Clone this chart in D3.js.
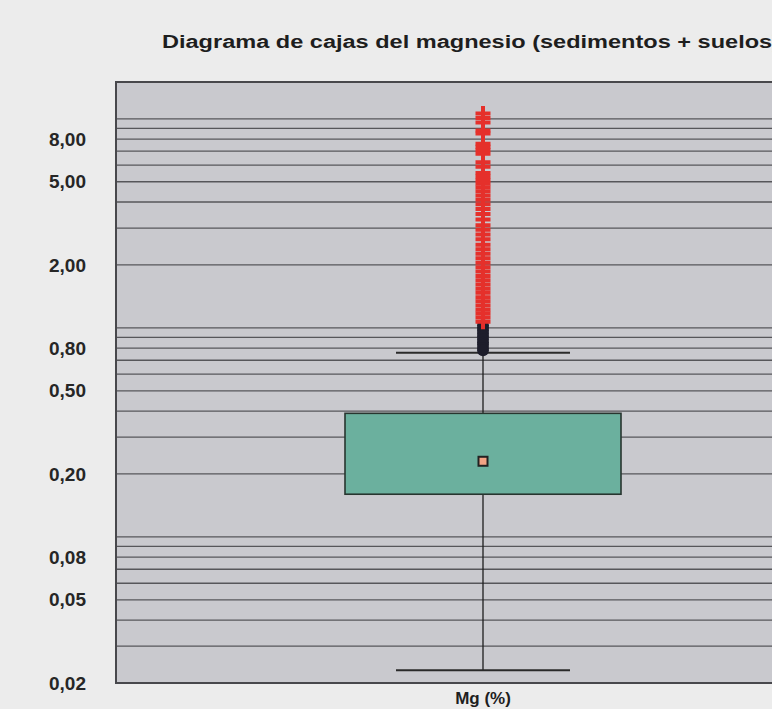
<!DOCTYPE html>
<html>
<head>
<meta charset="utf-8">
<script src="https://cdn.jsdelivr.net/npm/d3@7"></script>
<style>
  body { margin: 0; background: #ececec; }
  svg { display: block; font-family: "Liberation Sans", Arial, sans-serif; }
</style>
</head>
<body>
<div id="chart"></div>
<script>
/* box plot of Mg, log axis, plot runs past the right edge like the scan */

const categories = ["Mg (%)"];
const tickValues = [8, 5, 2, 0.8, 0.5, 0.2, 0.08, 0.05, 0.02];
const tickLabels = ["8,00", "5,00", "2,00", "0,80", "0,50", "0,20", "0,08", "0,05", "0,02"];
const gridValues = [0.03, 0.04, 0.05, 0.06, 0.07, 0.08, 0.09, 0.1,
                    0.2, 0.3, 0.4, 0.5, 0.6, 0.7, 0.8, 0.9, 1,
                    2, 3, 4, 5, 6, 7, 8, 9, 10];
const yDomain = [0.02, 15];

// whisker low, q1, mean, q3, whisker high
const boxStats = [0.023, 0.16, 0.23, 0.39, 0.76];

const outliers = [1.03, 1.0, 0.97, 0.94, 0.91, 0.88, 0.85, 0.83, 0.80, 0.78];
const extremes = [10.6, 10.1, 9.6, 8.8, 8.5, 7.6, 7.35, 7.1, 6.8, 6.2, 5.9,
                  5.5, 5.3, 5.1, 4.9, 4.7, 4.5, 4.3, 4.1, 3.9, 3.7, 3.5, 3.3,
                  3.1, 2.95, 2.8, 2.65, 2.5, 2.38, 2.26, 2.15, 2.05, 1.95,
                  1.86, 1.77, 1.69, 1.61, 1.54, 1.47, 1.40, 1.34, 1.28, 1.22,
                  1.17, 1.12, 1.07];

const W = 772, H = 709;
const plotL = 116, plotR = 850, plotT = 82, plotB = 683;

let svg = d3.select("#chart").append("svg")
    .attr("width", W).attr("height", H);

let y = d3.scaleLog().domain(yDomain).range([plotB, plotT]);
let x = d3.scalePoint().domain(categories).range([plotL, plotR]).padding(0.5);

// plot background
svg.append("rect")
    .attr("x", plotL).attr("y", plotT)
    .attr("width", plotR - plotL).attr("height", plotB - plotT)
    .attr("fill", "#c9c9ce");

// grid lines
svg.append("g")
    .selectAll("line")
    .data(gridValues)
    .join("line")
    .attr("x1", plotL).attr("x2", plotR)
    .attr("y1", d => y(d)).attr("y2", d => y(d))
    .attr("stroke", "#56565a")
    .attr("stroke-width", 1.3);

// y axis labels
let yAxis = d3.axisLeft(y)
    .tickValues(tickValues)
    .tickFormat((d, i) => tickLabels[i])
    .tickSize(0)
    .tickPadding(30);

let gAxis = svg.append("g")
    .attr("transform", `translate(${plotL},0)`)
    .call(yAxis);
gAxis.select(".domain").remove();
gAxis.selectAll("text")
    .attr("font-size", 19)
    .attr("font-weight", "bold")
    .attr("fill", "#262626");

// frame
svg.append("rect")
    .attr("x", plotL).attr("y", plotT)
    .attr("width", plotR - plotL).attr("height", plotB - plotT)
    .attr("fill", "none")
    .attr("stroke", "#48484c")
    .attr("stroke-width", 2);

let cx = x(categories[0]);
let boxW = 276, capW = 174;

// whiskers
svg.append("line")
    .attr("x1", cx).attr("x2", cx)
    .attr("y1", y(boxStats[0])).attr("y2", y(boxStats[4]))
    .attr("stroke", "#1e1e1e").attr("stroke-width", 1.3);

svg.selectAll(".cap")
    .data([boxStats[0], boxStats[4]])
    .join("line")
    .attr("class", "cap")
    .attr("x1", cx - capW / 2).attr("x2", cx + capW / 2)
    .attr("y1", d => y(d)).attr("y2", d => y(d))
    .attr("stroke", "#2a2a2a").attr("stroke-width", 2);

// box
svg.append("rect")
    .attr("x", cx - boxW / 2)
    .attr("y", y(boxStats[3]))
    .attr("width", boxW)
    .attr("height", y(boxStats[1]) - y(boxStats[3]))
    .attr("fill", "#6bb09e")
    .attr("stroke", "#27352f")
    .attr("stroke-width", 1.6);

// mean marker
svg.append("rect")
    .attr("x", cx - 4.5).attr("y", y(boxStats[2]) - 4.5)
    .attr("width", 9).attr("height", 9)
    .attr("fill", "#f2a384")
    .attr("stroke", "#222")
    .attr("stroke-width", 2);

// outliers (dark dots)
svg.append("g")
    .selectAll("path")
    .data(outliers)
    .join("path")
    .attr("transform", d => `translate(${cx},${y(d)})`)
    .attr("d", d3.symbol(d3.symbolCircle, 110))
    .attr("fill", "#1d1d2b");

// extremes (red crosses)
let cross = "M-7.5,-2 H7.5 V2 H-7.5 Z M-2,-7.5 H2 V7.5 H-2 Z";
svg.append("g")
    .selectAll("path")
    .data(extremes)
    .join("path")
    .attr("transform", d => `translate(${cx},${y(d)})`)
    .attr("d", cross)
    .attr("fill", "#e5302b");

// title
svg.append("text")
    .attr("x", 162).attr("y", 48)
    .attr("font-size", 18)
    .attr("font-weight", "bold")
    .attr("fill", "#1e1e1e")
    .attr("textLength", 618)
    .attr("lengthAdjust", "spacingAndGlyphs")
    .text("Diagrama de cajas del magnesio (sedimentos + suelos)");

// category label
svg.append("text")
    .attr("x", cx).attr("y", 704)
    .attr("text-anchor", "middle")
    .attr("font-size", 17)
    .attr("font-weight", "bold")
    .attr("fill", "#1e1e1e")
    .text(categories[0]);
</script>
</body>
</html>
